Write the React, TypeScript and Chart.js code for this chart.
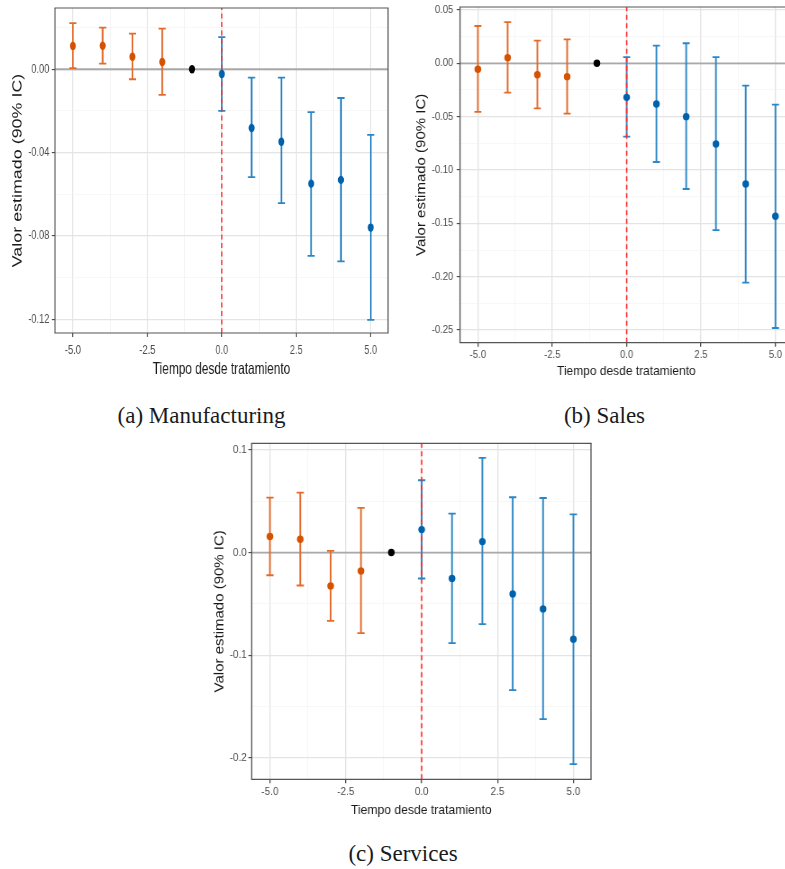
import React, { useEffect, useRef } from "react";
import { Chart, registerables } from "chart.js";
Chart.register(...registerables);

// ---------- data ----------
const periods = [-5, -4, -3, -2, -1, 0, 1, 2, 3, 4, 5];
const groups = ["pre", "pre", "pre", "pre", "ref", "post", "post", "post", "post", "post", "post"];

const mfgEst = [0.0112, 0.0113, 0.006, 0.0035, 0, -0.0023, -0.0282, -0.0348, -0.0549, -0.0531, -0.076];
const mfgLo = [0.0005, 0.0027, -0.0048, -0.0123, 0, -0.02, -0.0518, -0.0643, -0.0896, -0.0922, -0.1203];
const mfgHi = [0.0221, 0.02, 0.0171, 0.0195, 0, 0.0154, -0.004, -0.004, -0.0206, -0.0138, -0.0315];

const salesEst = [-0.0056, 0.0053, -0.0107, -0.0125, 0, -0.0319, -0.0381, -0.05, -0.0756, -0.1131, -0.1434];
const salesLo = [-0.0456, -0.0275, -0.0422, -0.0472, 0, -0.0688, -0.0925, -0.1178, -0.1563, -0.2056, -0.2481];
const salesHi = [0.035, 0.0387, 0.0212, 0.0225, 0, 0.0059, 0.0165, 0.0188, 0.0059, -0.021, -0.0388];

const servEst = [0.0156, 0.013, -0.0325, -0.0179, 0, 0.0224, -0.0253, 0.0107, -0.0403, -0.0549, -0.0844];
const servLo = [-0.0221, -0.0321, -0.0666, -0.0786, 0, -0.0253, -0.0883, -0.0698, -0.1341, -0.1623, -0.2062];
const servHi = [0.0536, 0.0584, 0.0016, 0.0435, 0, 0.0705, 0.038, 0.0922, 0.0539, 0.0532, 0.0373];

const xRange = [-5.6, 5.58];
const xMajor = [-5, -2.5, 0, 2.5, 5];
const xLabels = ["-5.0", "-2.5", "0.0", "2.5", "5.0"];
const xMinor = [-3.75, -1.25, 1.25, 3.75];

const mfgYRange = [-0.1266, 0.0294];
const mfgYMajor = [-0.12, -0.08, -0.04, 0];
const mfgYLabels = ["-0.12", "-0.08", "-0.04", "0.00"];
const mfgYMinor = [-0.1, -0.06, -0.02, 0.02];

const salesYRange = [-0.2619, 0.0528];
const salesYMajor = [-0.25, -0.2, -0.15, -0.1, -0.05, 0, 0.05];
const salesYLabels = ["-0.25", "-0.20", "-0.15", "-0.10", "-0.05", "0.00", "0.05"];
const salesYMinor = [-0.225, -0.175, -0.125, -0.075, -0.025, 0.025];

const servYRange = [-0.221, 0.1065];
const servYMajor = [-0.2, -0.1, 0, 0.1];
const servYLabels = ["-0.2", "-0.1", "0.0", "0.1"];
const servYMinor = [-0.15, -0.05, 0.05];

const xTitle = "Tiempo desde tratamiento";
const yTitle = "Valor estimado (90% IC)";
const captions = ["(a) Manufacturing", "(b) Sales", "(c) Services"];

// ---------- styles ----------
const COLORS: Record<string, { point: string; bar: string }> = {
  pre: { point: "#D55200", bar: "#E36B2C" },
  post: { point: "#0062AC", bar: "#2C86C6" },
  ref: { point: "#000000", bar: "#000000" },
};
const SANS = "'Liberation Sans', Arial, Helvetica, sans-serif";

type Layout = {
  box: { left: number; top: number; width: number; height: number };
  sx: number;
  area: { left: number; right: number; top: number; bottom: number };
  yTitleX: number;
  yTickRight: number;
  xTickY: number;
  xTitleY: number;
  tickSize: number;
  xTitleSize: number;
  yTitleSize: number;
  pointR: number;
  capR: number;
  stemW: number;
};

type PanelDef = {
  est: number[];
  lo: number[];
  hi: number[];
  yRange: number[];
  yMajor: number[];
  yLabels: string[];
  yMinor: number[];
  layout: Layout;
};

const panels: PanelDef[] = [
  {
    est: mfgEst, lo: mfgLo, hi: mfgHi, yRange: mfgYRange, yMajor: mfgYMajor, yLabels: mfgYLabels, yMinor: mfgYMinor,
    layout: {
      box: { left: 0, top: 0, width: 400, height: 385 }, sx: 0.72,
      area: { left: 55, right: 388, top: 8, bottom: 333 },
      yTitleX: 18, yTickRight: 49.5, xTickY: 350, xTitleY: 369,
      tickSize: 13, xTitleSize: 16.5, yTitleSize: 17.9, pointR: 4.2, capR: 5, stemW: 1.7,
    },
  },
  {
    est: salesEst, lo: salesLo, hi: salesHi, yRange: salesYRange, yMajor: salesYMajor, yLabels: salesYLabels, yMinor: salesYMinor,
    layout: {
      box: { left: 400, top: 0, width: 400, height: 385 }, sx: 0.9,
      area: { left: 60, right: 392.7, top: 7, bottom: 342.7 },
      yTitleX: 21.5, yTickRight: 53.3, xTickY: 355, xTitleY: 371,
      tickSize: 10.5, xTitleSize: 13.3, yTitleSize: 15, pointR: 3.7, capR: 3.9, stemW: 1.7,
    },
  },
  {
    est: servEst, lo: servLo, hi: servHi, yRange: servYRange, yMajor: servYMajor, yLabels: servYLabels, yMinor: servYMinor,
    layout: {
      box: { left: 200, top: 430, width: 400, height: 395 }, sx: 0.9,
      area: { left: 51.7, right: 391, top: 13.3, bottom: 349.3 },
      yTitleX: 19.8, yTickRight: 46.7, xTickY: 362, xTitleY: 380,
      tickSize: 11, xTitleSize: 13.5, yTitleSize: 15, pointR: 3.7, capR: 4.05, stemW: 1.7,
    },
  },
];

const near = (a: number, b: number) => Math.abs(a - b) < 1e-9;
const isIn = (v: number, arr: number[]) => arr.some((a) => near(a, v));
const labelOf = (v: number, vals: number[], labs: string[]) => {
  const i = vals.findIndex((a) => near(a, v));
  return i >= 0 ? labs[i] : "";
};

const framePlugin = {
  id: "frame",
  afterDraw(chart: any, _args: any, opts: any) {
    const { ctx, chartArea } = chart;
    const { left, right, top, bottom } = chartArea;
    ctx.save();
    ctx.strokeStyle = opts.color;
    ctx.lineWidth = opts.h;
    ctx.beginPath();
    ctx.moveTo(left - opts.v / 2, top);
    ctx.lineTo(right + opts.v / 2, top);
    ctx.moveTo(left - opts.v / 2, bottom);
    ctx.lineTo(right + opts.v / 2, bottom);
    ctx.stroke();
    ctx.lineWidth = opts.v;
    ctx.beginPath();
    ctx.moveTo(left, top);
    ctx.lineTo(left, bottom);
    ctx.moveTo(right, top);
    ctx.lineTo(right, bottom);
    ctx.stroke();
    ctx.restore();
  },
};

function Panel({ def }: { def: PanelDef }) {
  const ref = useRef<HTMLCanvasElement>(null);
  const L = def.layout;
  const W = Math.round(L.box.width / L.sx);
  const H = L.box.height;
  const sx = L.box.width / W;

  useEffect(() => {
    const areaL = L.area.left / sx;
    const areaR = L.area.right / sx;
    const padRight = W - areaR;
    const xAxisH = H - L.area.bottom;
    const tlY = 3.3 / sx;
    const tlX = 4;
    const yTickPad = (L.area.left - L.yTickRight) / sx - tlY;
    const xTickPad = L.xTickY - L.area.bottom - tlX - (L.tickSize * 1.2) / 2;
    const xTitlePad = H - L.xTitleY - (L.xTitleSize * 1.2) / 2;
    const yTitlePad = L.yTitleX / sx - (L.yTitleSize * 1.2) / 2;

    const idx = (g: string) => periods.map((_, i) => i).filter((i) => groups[i] === g);
    const barGroups = ["pre", "post"];
    const datasets: any[] = [];

    // points (top)
    datasets.push({
      type: "scatter",
      data: periods.map((x, i) => ({ x, y: def.est[i] })),
      backgroundColor: groups.map((g) => COLORS[g].point),
      borderWidth: 0,
      pointRadius: L.pointR,
      order: 0,
    });
    // vertical dashed line at 0
    datasets.push({
      type: "line",
      data: [
        { x: 0, y: def.yRange[0] },
        { x: 0, y: def.yRange[1] },
      ],
      borderColor: "#FF2B2B",
      borderWidth: 1.4 / sx,
      borderDash: [5, 3.5],
      pointRadius: 0,
      order: 1,
    });
    // error bars
    barGroups.forEach((g) => {
      const ids = idx(g);
      datasets.push({
        type: "line",
        data: ids.flatMap((i) => [
          { x: periods[i], y: def.lo[i] },
          { x: periods[i], y: def.hi[i] },
          { x: periods[i], y: null },
        ]),
        borderColor: COLORS[g].bar,
        borderWidth: L.stemW / sx,
        pointRadius: 0,
        spanGaps: false,
        order: 2,
      });
      datasets.push({
        type: "scatter",
        data: ids.flatMap((i) => [
          { x: periods[i], y: def.lo[i] },
          { x: periods[i], y: def.hi[i] },
        ]),
        pointStyle: "line",
        pointRadius: L.capR,
        borderColor: COLORS[g].bar,
        borderWidth: 1.8,
        order: 2,
      });
    });
    // horizontal line at 0
    datasets.push({
      type: "line",
      data: [
        { x: xRange[0], y: 0 },
        { x: xRange[1], y: 0 },
      ],
      borderColor: "#A9A9A9",
      borderWidth: 1.8,
      pointRadius: 0,
      order: 3,
    });

    const xTicks = [...xMajor, ...xMinor].sort((a, b) => a - b);
    const yTicks = [...def.yMajor, ...def.yMinor].sort((a, b) => a - b);

    const chart = new Chart(ref.current as HTMLCanvasElement, {
      type: "scatter",
      data: { datasets },
      plugins: [framePlugin as any],
      options: {
        animation: false,
        responsive: false,
        devicePixelRatio: 1,
        events: [],
        layout: { padding: { left: 0, top: L.area.top, right: padRight, bottom: 0 } },
        plugins: {
          legend: { display: false },
          tooltip: { enabled: false },
          frame: { color: "#555555", h: 1.2, v: 1.2 / sx },
        } as any,
        scales: {
          x: {
            type: "linear",
            min: xRange[0],
            max: xRange[1],
            afterBuildTicks: (s: any) => {
              s.ticks = xTicks.map((v) => ({ value: v }));
            },
            afterFit: (s: any) => {
              s.height = xAxisH;
              s.paddingLeft = 0;
              s.paddingRight = 0;
            },
            ticks: {
              autoSkip: false,
              maxRotation: 0,
              minRotation: 0,
              padding: xTickPad,
              color: "#4D4D4D",
              font: { family: SANS, size: L.tickSize },
              callback: (v: any) => labelOf(Number(v), xMajor, xLabels),
            },
            title: {
              display: true,
              text: xTitle,
              color: "#1a1a1a",
              font: { family: SANS, size: L.xTitleSize },
              padding: { top: 0, bottom: xTitlePad },
            },
            grid: {
              color: (c: any) => (isIn(c.tick?.value, xMajor) ? "#E4E4E4" : "#F1F1F1"),
              lineWidth: (c: any) => (isIn(c.tick?.value, xMajor) ? 1.2 : 0.6) / sx,
              tickColor: (c: any) => (isIn(c.tick?.value, xMajor) ? "#444444" : "rgba(0,0,0,0)"),
              tickWidth: 1.1 / sx,
              tickLength: tlX,
              drawTicks: true,
            },
            border: { display: false },
          },
          y: {
            type: "linear",
            min: def.yRange[0],
            max: def.yRange[1],
            afterBuildTicks: (s: any) => {
              s.ticks = yTicks.map((v) => ({ value: v }));
            },
            afterFit: (s: any) => {
              s.width = areaL;
              s.paddingTop = 0;
              s.paddingBottom = 0;
            },
            ticks: {
              autoSkip: false,
              padding: yTickPad,
              color: "#4D4D4D",
              font: { family: SANS, size: L.tickSize },
              callback: (v: any) => labelOf(Number(v), def.yMajor, def.yLabels),
            },
            title: {
              display: true,
              text: yTitle,
              color: "#1a1a1a",
              font: { family: SANS, size: L.yTitleSize },
              padding: { top: yTitlePad, bottom: 0 },
            },
            grid: {
              color: (c: any) => (isIn(c.tick?.value, def.yMajor) ? "#E4E4E4" : "#F1F1F1"),
              lineWidth: (c: any) => (isIn(c.tick?.value, def.yMajor) ? 1.2 : 0.6),
              tickColor: (c: any) => (isIn(c.tick?.value, def.yMajor) ? "#444444" : "rgba(0,0,0,0)"),
              tickWidth: 1.1,
              tickLength: tlY,
              drawTicks: true,
            },
            border: { display: false },
          },
        },
      } as any,
    });
    return () => chart.destroy();
  }, []);

  return (
    <div
      style={{
        position: "absolute",
        left: L.box.left,
        top: L.box.top,
        width: W,
        height: H,
        transform: `scale(${sx}, 1)`,
        transformOrigin: "0 0",
      }}
    >
      <canvas ref={ref} width={W} height={H} style={{ display: "block" }} />
    </div>
  );
}

const captionPos = [
  { cx: 201.5, cy: 416 },
  { cx: 604.5, cy: 416 },
  { cx: 403, cy: 854 },
];

export default function App() {
  return (
    <div
      style={{
        position: "absolute",
        left: 0,
        top: 0,
        width: 785,
        height: 869,
        overflow: "hidden",
        background: "#ffffff",
      }}
    >
      {panels.map((p, i) => (
        <Panel key={i} def={p} />
      ))}
      {captions.map((c, i) => (
        <div
          key={c}
          style={{
            position: "absolute",
            left: captionPos[i].cx - 150,
            top: captionPos[i].cy - 14,
            width: 300,
            height: 28,
            lineHeight: "28px",
            textAlign: "center",
            fontFamily: "'Liberation Serif', 'Times New Roman', serif",
            fontSize: 23,
            color: "#1a1a1a",
            whiteSpace: "nowrap",
          }}
        >
          {c}
        </div>
      ))}
    </div>
  );
}
